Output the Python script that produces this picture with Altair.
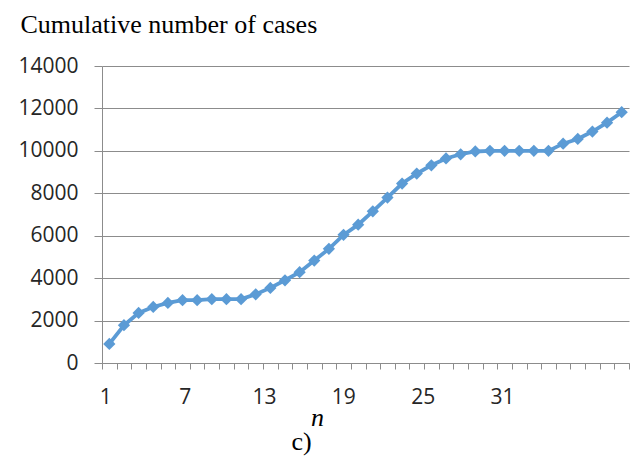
import altair as alt
import pandas as pd

# ---- data ----
n_values = [1, 2, 3, 4, 5, 6, 7, 8, 9, 10, 11, 12, 13, 14, 15, 16, 17, 18,
            19, 20, 21, 22, 23, 24, 25, 26, 27, 28, 29, 30, 31, 32, 33, 34, 35, 36]
cases = [900, 1780, 2360, 2640, 2830, 2960, 2960, 3010, 3010, 3010, 3240, 3540,
         3900, 4280, 4830, 5380, 6040, 6520, 7150, 7800, 8460, 8930, 9320, 9640,
         9840, 9970, 10000, 10000, 10000, 10000, 10000, 10340, 10560, 10910, 11330, 11820]
y_ticks = [0, 2000, 4000, 6000, 8000, 10000, 12000, 14000]
x_tick_marks = [0.5, 1.5, 2.5, 3.5, 4.5, 5.5, 6.5, 7.5, 8.5, 9.5, 10.5, 11.5, 12.5,
                13.5, 14.5, 15.5, 16.5, 17.5, 18.5, 19.5, 20.5, 21.5, 22.5, 23.5,
                24.5, 25.5, 26.5, 27.5, 28.5, 29.5, 30.5, 31.5, 32.5, 33.5, 34.5,
                35.5, 36.5]
x_labels = [1, 7, 13, 19, 25, 31]

df = pd.DataFrame({"n": n_values, "cases": cases})
label_df = pd.DataFrame({"lab": x_labels})

SANS = "Open Sans"
SERIF = "Liberation Serif"
GRID = "#8c8c8c"
BLUE = "#5B9BD5"
TXT = "#262626"

y_enc = alt.Y(
    "cases:Q",
    scale=alt.Scale(domain=[0, 14000], nice=False),
    axis=alt.Axis(
        values=y_ticks, format="d", grid=True, gridColor=GRID, gridWidth=1,
        domainColor=GRID, tickColor=GRID, tickSize=8,
        labelFont=SANS, labelFontSize=21, labelColor=TXT, labelPadding=16,
        title="Cumulative number of cases", titleAngle=0, titleAlign="left",
        titleBaseline="alphabetic", titleX=-82, titleY=-34,
        titleFont=SERIF, titleFontSize=26, titleFontWeight="normal",
        titleColor="black",
    ),
)

x_main = alt.X(
    "n:Q",
    scale=alt.Scale(domain=[0.5, 36.5], nice=False, zero=False),
    axis=alt.Axis(
        orient="bottom", values=x_tick_marks, labels=False, ticks=True,
        tickSize=6, tickColor=GRID, domainColor=GRID, grid=False,
        title="n", titleFont=SERIF, titleFontStyle="italic", titleFontSize=26,
        titleFontWeight="normal", titleX=215, titleY=62, titleAlign="center",
        titleBaseline="alphabetic", titleColor="black",
    ),
)

series = alt.Chart(df).mark_line(
    color=BLUE, strokeWidth=3.8,
    point=alt.OverlayMarkDef(shape="diamond", filled=True, size=150, color=BLUE, opacity=1),
).encode(x=x_main, y=y_enc)

labels_layer = alt.Chart(label_df).mark_point(opacity=0).encode(
    x=alt.X(
        "lab:Q",
        scale=alt.Scale(domain=[0.75, 40.6], nice=False, zero=False),
        axis=alt.Axis(
            orient="bottom", values=x_labels, ticks=False, tickSize=0,
            domain=False, grid=False, labelFont=SANS, labelFontSize=21,
            labelColor=TXT, labelPadding=23, format="d",
            title="c)", titleFont=SERIF, titleFontSize=26, titleFontWeight="normal",
            titleColor="black", titleX=199, titleY=86, titleAlign="center",
            titleBaseline="alphabetic",
        ),
    )
)

chart = alt.layer(series, labels_layer).resolve_scale(x="independent").properties(
    width=527, height=297, autosize="none",
    padding={"left": 94, "top": 58, "right": 2, "bottom": 93},
    background="white",
).configure_view(stroke=None)

chart.save("out.html", embed_options={"renderer": "svg", "actions": False})
